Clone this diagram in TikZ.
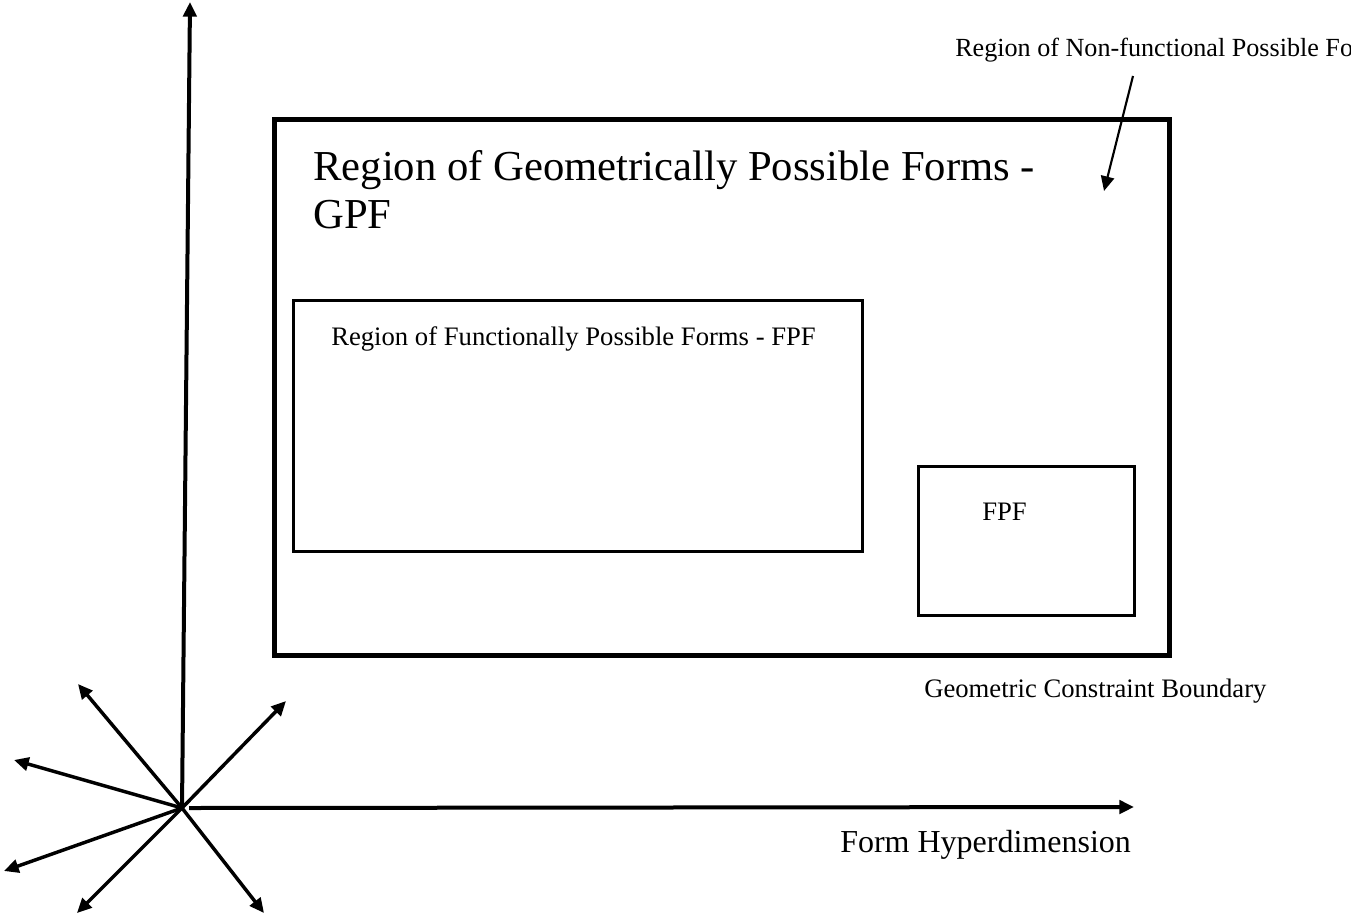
\documentclass[tikz,border=0pt]{standalone}
\usepackage{fontspec}
\setmainfont{Liberation Serif}
\usetikzlibrary{arrows.meta}
\tikzset{
  tip/.style={-{Triangle[length=11pt,width=10pt]}},
  axis/.style={line width=3pt,tip},
  ray/.style={line width=2.6pt,tip},
  outerbox/.style={draw,line width=3.6pt,inner sep=0pt,anchor=north west},
  innerbox/.style={draw,line width=2.2pt,inner sep=0pt,anchor=north west},
  lbl/.style={anchor=base west,inner sep=0pt,font=\fontsize{20}{24}\selectfont},
  big/.style={anchor=base west,inner sep=0pt,font=\fontsize{32}{36}\selectfont},
}
\begin{document}
\begin{tikzpicture}[x=0.75pt,y=-0.75pt]
\useasboundingbox (0,0) rectangle (1351,917);
\clip (0,0) rectangle (1351,917);
% boxes
\node[outerbox,minimum width=895*0.75pt,minimum height=536*0.75pt] (gpf) at (272,117) {};
\node[innerbox,minimum width=569*0.75pt,minimum height=251*0.75pt] (fpf1) at (292,299) {};
\node[innerbox,minimum width=216*0.75pt,minimum height=149*0.75pt] (fpf2) at (917,465) {};
% texts
\node[big] (t1) at (313,180) {Region of Geometrically Possible Forms -};
\node[big] (t2) at (313,228) {GPF};
\node[lbl] (t3) at (331,345) {Region of Functionally Possible Forms - FPF};
\node[lbl] (t4) at (982,520) {FPF};
\node[lbl] (t5) at (924,697) {Geometric Constraint Boundary};
\node[lbl,font=\fontsize{19.6}{24}\selectfont] (t6) at (955,57) {Region of Non-functional Possible Forms};
\node[anchor=base west,inner sep=0pt,font=\fontsize{24}{28}\selectfont] (t7) at (840,852) {Form Hyperdimension};
% non-functional arrow
\coordinate (nfs) at (1133,76);
\coordinate (nfe) at (1104,191);
\draw[line width=1.6pt,tip] (nfs) -- (nfe);
% axes
\coordinate (o) at (182,808);
\coordinate (yend) at (190,2);
\coordinate (xs) at (189,808);
\coordinate (xend) at (1134,807);
\draw[axis] (o) -- (yend);
\draw[axis] (xs) -- (xend);
% rays
\coordinate (r1) at (78,684);
\coordinate (r2) at (286,701);
\coordinate (r3) at (14,760);
\coordinate (r4) at (4,871);
\coordinate (r5) at (77,913);
\coordinate (r6) at (264,913);
\foreach \r in {r1,r2,r3,r4,r5,r6} \draw[ray] (o) -- (\r);
\end{tikzpicture}
\end{document}
